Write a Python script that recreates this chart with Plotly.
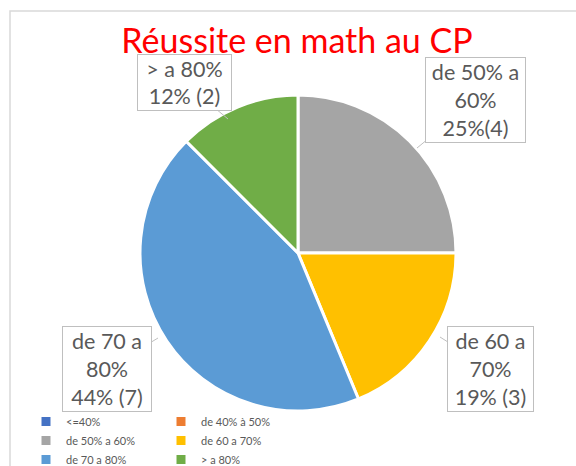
import plotly.graph_objects as go

# ---- data ----
categories = ["<=40%", "de 40% à 50%", "de 50% a 60%", "de 60 a 70%", "de 70 a 80%", "> a 80%"]
counts = [0, 0, 4, 3, 7, 2]
colors = ["#4472C4", "#ED7D31", "#A5A5A5", "#FFC000", "#5B9BD5", "#70AD47"]
label_lines = {
    "de 50% a 60%": ["de 50% a", "60%"],
    "de 60 a 70%": ["de 60 a", "70%"],
    "de 70 a 80%": ["de 70 a", "80%"],
    "> a 80%": ["> a 80%"],
}
pct_sep = {"de 50% a 60%": "", "de 60 a 70%": " ", "de 70 a 80%": " ", "> a 80%": " "}
title_text = "Réussite en math au CP"

W, H = 576, 466
L, R, T, B = 118, 98, 94, 20
PW, PH = W - L - R, H - T - B

def px(x):
    return (x - L) / PW

def py(y):
    return (H - B - y) / PH

# pie placement (pixels)
CX, CY, RAD = 298, 253, 158

total = sum(counts)

fig = go.Figure()
fig.add_trace(go.Pie(
    labels=categories,
    values=counts,
    sort=False,
    direction="clockwise",
    rotation=0,
    marker=dict(colors=colors, line=dict(color="white", width=3)),
    textinfo="none",
    hoverinfo="label+value+percent",
    domain=dict(x=[px(CX - RAD), px(CX + RAD)], y=[py(CY + RAD), py(CY - RAD)]),
))

# label callouts: (category, box centre px, tip px, box width, box height)
callouts = [
    ("> a 80%", (184.5, 82.5), (228, 119), 91, 53),
    ("de 50% a 60%", (475.5, 100), (417, 148), 97, 82),
    ("de 60 a 70%", (490.5, 369), (440, 337), 83, 82),
    ("de 70 a 80%", (107, 369), (158, 338), 86, 82),
]
for cat, (cx, cy), (tx, ty), bw, bh in callouts:
    v = counts[categories.index(cat)]
    pct = round(100 * v / total)
    txt = "<br>".join(label_lines[cat] + [f"{pct}%{pct_sep[cat]}({v})"])
    fig.add_annotation(
        xref="paper", yref="paper", x=px(tx), y=py(ty),
        ax=cx - tx, ay=cy - ty, axref="pixel", ayref="pixel",
        text=txt, showarrow=True, arrowhead=0, arrowwidth=1, arrowcolor="#BFBFBF",
        font=dict(family="Lato", size=21.5, color="#595959"),
        bordercolor="#BFBFBF", borderwidth=1, borderpad=1, bgcolor="white",
        width=bw, height=bh, align="center", valign="middle",
    )

# chart frame
fig.add_shape(type="rect", xref="paper", yref="paper",
              x0=px(10), y0=py(490), x1=px(600), y1=py(11),
              line=dict(color="#D9D9D9", width=1.5), fillcolor="rgba(0,0,0,0)", layer="below")

fig.update_layout(
    width=W, height=H,
    margin=dict(l=L, r=R, t=T, b=B, autoexpand=False),
    paper_bgcolor="white", plot_bgcolor="white",
    title=dict(text=title_text, x=297 / W, xanchor="center", y=1 - 41 / H, yanchor="middle",
               font=dict(family="Lato", size=34, color="#FF0000")),
    showlegend=True,
    legend=dict(orientation="h", x=px(26), xanchor="left", y=py(407), yanchor="top",
                font=dict(family="Lato", size=11, color="#595959"),
                entrywidth=90, entrywidthmode="pixels", itemwidth=30,
                bgcolor="rgba(0,0,0,0)"),
)

fig.write_html("out.html", config={"displayModeBar": False},
               post_script="document.body.style.margin='0px';")
